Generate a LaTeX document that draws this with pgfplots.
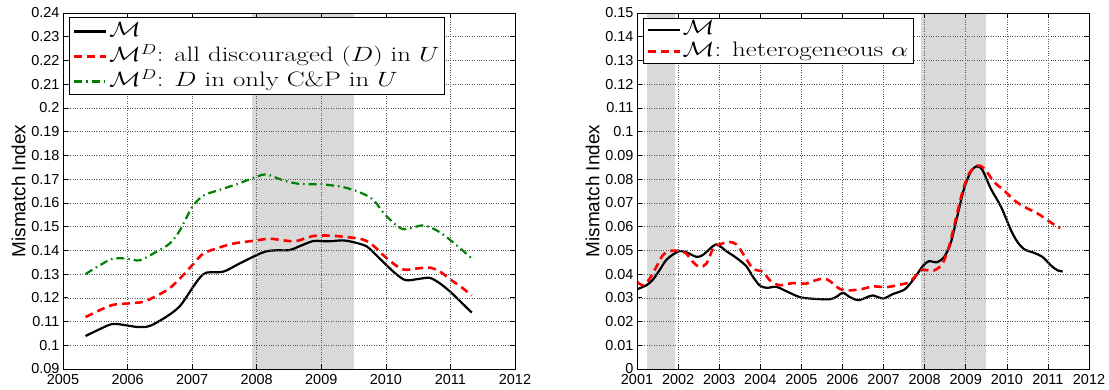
\documentclass[border=0pt]{standalone}
\usepackage{fontspec}
\usepackage{pgfplots}
\pgfplotsset{compat=1.18}
\newfontfamily\arial{Liberation Sans}
\definecolor{mgreen}{RGB}{0,128,0}
\definecolor{shade}{RGB}{217,217,217}
\newcommand\lx[1]{\scalebox{1.28}[1]{#1}}
\newcommand\rx[1]{\scalebox{1.29}[1]{#1}}

\pgfplotstableread{
x y
2005.35 0.1039
2005.57 0.1068
2005.77 0.1090
2006.00 0.1083
2006.16 0.1077
2006.34 0.1081
2006.60 0.1120
2006.81 0.1165
2007.00 0.1240
2007.12 0.1285
2007.22 0.1306
2007.48 0.1310
2007.73 0.1344
2008.00 0.1380
2008.15 0.1396
2008.30 0.1400
2008.51 0.1401
2008.66 0.1417
2008.87 0.1439
2009.00 0.1439
2009.13 0.1438
2009.33 0.1442
2009.49 0.1435
2009.70 0.1417
2009.85 0.1380
2010.00 0.1340
2010.16 0.1300
2010.31 0.1274
2010.52 0.1280
2010.68 0.1284
2010.83 0.1262
2011.00 0.1225
2011.17 0.1180
2011.33 0.1138
}\Lblack

\pgfplotstableread{
x y
2005.35 0.1119
2005.57 0.1148
2005.77 0.1170
2006.00 0.1176
2006.24 0.1183
2006.44 0.1207
2006.65 0.1240
2006.86 0.1295
2007.00 0.1337
2007.17 0.1386
2007.37 0.1407
2007.63 0.1428
2008.00 0.1442
2008.20 0.1449
2008.41 0.1442
2008.61 0.1439
2008.87 0.1460
2009.13 0.1462
2009.39 0.1456
2009.64 0.1446
2009.80 0.1421
2010.00 0.1370
2010.26 0.1320
2010.52 0.1325
2010.68 0.1327
2010.83 0.1312
2011.00 0.1277
2011.17 0.1245
2011.33 0.1210
}\Lred

\pgfplotstableread{
x y
2005.35 0.1300
2005.57 0.1337
2005.77 0.1365
2006.00 0.1365
2006.19 0.1358
2006.44 0.1393
2006.65 0.1428
2006.81 0.1484
2007.00 0.1582
2007.17 0.1630
2007.37 0.1650
2007.63 0.1673
2008.00 0.1710
2008.15 0.1720
2008.41 0.1695
2008.66 0.1680
2009.00 0.1678
2009.33 0.1667
2009.59 0.1645
2009.80 0.1614
2010.00 0.1547
2010.26 0.1490
2010.57 0.1505
2010.78 0.1485
2011.00 0.1443
2011.33 0.1366
}\Lgreen

\pgfplotstableread{
x y
2001.00 0.0336
2001.23 0.0353
2001.39 0.0377
2001.55 0.0417
2001.71 0.0459
2001.88 0.0483
2002.04 0.0497
2002.20 0.0492
2002.44 0.0473
2002.60 0.0480
2002.85 0.0518
2002.97 0.0524
2003.17 0.0497
2003.42 0.0468
2003.66 0.0433
2003.82 0.0389
2003.98 0.0353
2004.15 0.0342
2004.39 0.0346
2004.63 0.0328
2004.96 0.0303
2005.28 0.0296
2005.69 0.0294
2005.85 0.0304
2006.01 0.0321
2006.17 0.0304
2006.38 0.0290
2006.58 0.0301
2006.74 0.0310
2006.99 0.0297
2007.23 0.0316
2007.52 0.0336
2007.76 0.0385
2007.95 0.0433
2008.10 0.0454
2008.30 0.0450
2008.47 0.0471
2008.63 0.0528
2008.79 0.0640
2008.96 0.0760
2009.12 0.0830
2009.27 0.0854
2009.41 0.0837
2009.61 0.0760
2009.86 0.0683
2010.10 0.0585
2010.26 0.0535
2010.43 0.0504
2010.67 0.0489
2010.87 0.0472
2011.07 0.0437
2011.23 0.0416
2011.36 0.0411
}\Rblack

\pgfplotstableread{
x y
2001.00 0.0367
2001.15 0.0353
2001.31 0.0381
2001.47 0.0430
2001.63 0.0480
2001.79 0.0497
2002.04 0.0498
2002.20 0.0486
2002.36 0.0451
2002.52 0.0430
2002.69 0.0444
2002.85 0.0507
2003.01 0.0525
2003.25 0.0535
2003.42 0.0525
2003.58 0.0486
2003.82 0.0424
2004.07 0.0409
2004.23 0.0374
2004.47 0.0353
2004.80 0.0362
2005.12 0.0360
2005.28 0.0370
2005.53 0.0381
2005.69 0.0371
2005.93 0.0338
2006.17 0.0331
2006.50 0.0338
2006.74 0.0348
2007.07 0.0345
2007.39 0.0355
2007.63 0.0366
2007.80 0.0397
2007.94 0.0418
2008.22 0.0415
2008.43 0.0443
2008.59 0.0514
2008.75 0.0626
2008.92 0.0746
2009.08 0.0823
2009.28 0.0857
2009.45 0.0845
2009.69 0.0788
2009.93 0.0753
2010.18 0.0711
2010.43 0.0683
2010.75 0.0655
2010.99 0.0627
2011.23 0.0599
2011.30 0.0595
}\Rred

\pgfplotsset{
  mystyle/.style={
    scale only axis, width=452bp, height=356bp,
    axis on top,
    tick align=inside, tick pos=both,
    major tick length=5bp,
    grid=major,
    major grid style={dotted, black!65, line width=0.5pt},
    axis line style={line width=0.9bp},
    every tick/.style={black, line width=0.6bp},
    tick label style={font=\arial\fontsize{14.5}{14.5}\selectfont},
    xticklabel style={yshift=-1.5bp},
    /pgf/number format/assume math mode=true,
    /pgf/number format/1000 sep={},
    yticklabel style={/pgf/number format/fixed, /pgf/number format/precision=2},
    ylabel={Mismatch Index},
    ylabel style={font=\arial\fontsize{19}{19}\selectfont, yshift=-1bp},
    legend cell align=left,
    legend style={draw=black, line width=0.9bp, fill=white,
      font=\fontsize{21}{23}\selectfont,
      at={(0,1)}, anchor=north west,
      inner xsep=3.5bp, inner ysep=1bp, row sep=0bp,
      /tikz/every even column/.style={column sep=0bp}},
    legend image code/.code={\draw[#1] (0bp,0bp) -- (32bp,0bp);},
  },
  blk/.style={black, line width=2.2bp, smooth},
  rdd/.style={red, line width=2.6bp, dash pattern=on 8bp off 5bp, smooth},
  grd/.style={mgreen, line width=2.2bp, dash pattern=on 8bp off 4bp on 1.5bp off 4bp, smooth},
}

\begin{document}
\begin{tikzpicture}
\path[use as bounding box] (0,0) rectangle (1109bp,390bp);

\begin{axis}[mystyle, at={(63bp,21bp)}, anchor=south west,
  xmin=2005, xmax=2012, ymin=0.09, ymax=0.24,
  xtick={2005,2006,2007,2008,2009,2010,2011,2012},
  ytick={0.09,0.10,0.11,0.12,0.13,0.14,0.15,0.16,0.17,0.18,0.19,0.20,0.21,0.22,0.23,0.24},
  legend style={xshift=6bp, yshift=-4.5bp,
    nodes={text height=16bp, text depth=5bp, inner xsep=1.5bp, inner ysep=2bp}}]
\addplot[fill=shade, draw=none, forget plot] coordinates {(2007.92,0.09) (2009.5,0.09) (2009.5,0.24) (2007.92,0.24)} -- cycle;
\addplot[blk] table {\Lblack};
\addlegendentry{\lx{$\mathcal{M}$}}
\addplot[rdd] table {\Lred};
\addlegendentry{\lx{$\mathcal{M}^D$: all discouraged $(D)$ in $U$}}
\addplot[grd] table {\Lgreen};
\addlegendentry{\lx{$\mathcal{M}^D$: $D$ in only C\&P in $U$}}
\end{axis}

\begin{axis}[mystyle, at={(637bp,21bp)}, anchor=south west,
  xmin=2001, xmax=2012, ymin=0, ymax=0.15,
  xtick={2001,2002,2003,2004,2005,2006,2007,2008,2009,2010,2011,2012},
  ytick={0,0.01,0.02,0.03,0.04,0.05,0.06,0.07,0.08,0.09,0.10,0.11,0.12,0.13,0.14,0.15},
  legend style={xshift=5.5bp, yshift=-5bp,
    nodes={text height=14.5bp, text depth=5bp, inner xsep=1.5bp, inner ysep=1bp}}]
\addplot[fill=shade, draw=none, forget plot] coordinates {(2001.25,0) (2001.92,0) (2001.92,0.15) (2001.25,0.15)} -- cycle;
\addplot[fill=shade, draw=none, forget plot] coordinates {(2007.92,0) (2009.5,0) (2009.5,0.15) (2007.92,0.15)} -- cycle;
\addplot[blk] table {\Rblack};
\addlegendentry{\rx{$\mathcal{M}$}}
\addplot[rdd] table {\Rred};
\addlegendentry{\rx{$\mathcal{M}$: heterogeneous $\alpha$}}
\end{axis}
\end{tikzpicture}
\end{document}
